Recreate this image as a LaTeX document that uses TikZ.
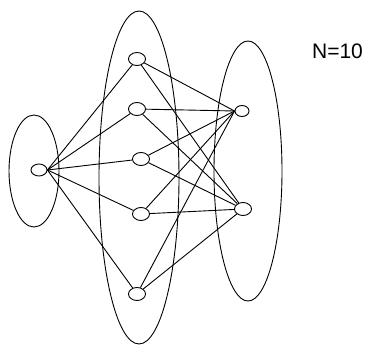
\documentclass[tikz,border=0pt]{standalone}
\usepackage{fontspec}
\setmainfont{Liberation Sans}
\usetikzlibrary{shapes.geometric}
\begin{document}
\begin{tikzpicture}[x=1pt,y=-1pt,line width=0.9pt,
  nd/.style={draw,ellipse,minimum width=17pt,minimum height=13pt,inner sep=0pt},
  sn/.style={draw,ellipse,minimum width=14pt,minimum height=11pt,inner sep=0pt},
  grp/.style={draw}]
\useasboundingbox (0,0) rectangle (368,345);
\draw[grp] (34,171) ellipse [x radius=25, y radius=56];
\draw[grp] (139,177.5) ellipse [x radius=40, y radius=166.5];
\draw[grp] (248,171) ellipse [x radius=34, y radius=130];
\node[nd,minimum width=16pt,minimum height=12pt] (L) at (39,170) {};
\node[nd] (m1) at (137,59) {};
\node[nd] (m2) at (137,109) {};
\node[nd] (m3) at (141,159) {};
\node[nd] (m4) at (141,214) {};
\node[nd] (m5) at (137,294) {};
\node[sn] (r1) at (242,111) {};
\node[nd] (r2) at (243,209) {};
\foreach \m in {m1,m2,m3,m4,m5}{
  \draw (L.east) -- (\m);
  \draw (\m) -- (r1.west);
  \draw (\m) -- (r2);
}
\node[font=\fontsize{21}{25}\selectfont,inner sep=0pt] (t) at (337.5,51) {N=10};
\end{tikzpicture}
\end{document}
